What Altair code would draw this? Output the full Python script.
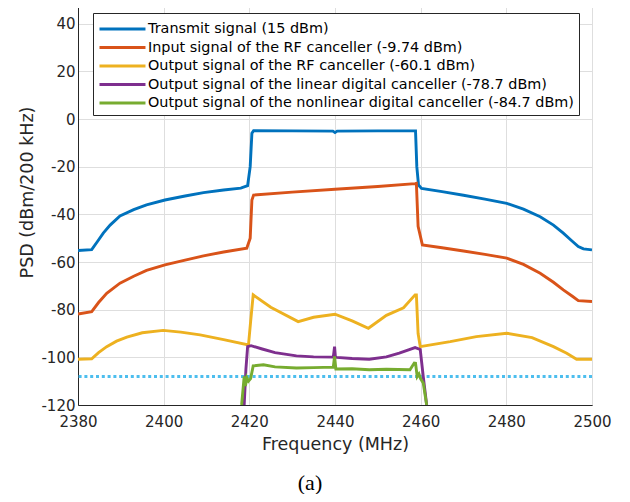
import altair as alt
import pandas as pd

# ---------------- data ----------------
SERIES = [
    "Transmit signal (15 dBm)",
    "Input signal of the RF canceller (-9.74 dBm)",
    "Output signal of the RF canceller (-60.1 dBm)",
    "Output signal of the linear digital canceller (-78.7 dBm)",
    "Output signal of the nonlinear digital canceller (-84.7 dBm)",
]
COLORS = ["#0072BD", "#D95319", "#EDB120", "#7E2F8E", "#77AC30"]

tx_f = [2380, 2383.2, 2384.5, 2385.9, 2387.5, 2389.8, 2393, 2396, 2400.3, 2405, 2409.3,
        2414, 2418, 2419.6, 2420.2, 2420.6, 2421, 2430, 2439.5, 2440, 2440.5, 2450,
        2458.8, 2459.1, 2459.5, 2460.2, 2465, 2470, 2475, 2480.1, 2484, 2487.9, 2491,
        2493.3, 2495.2, 2496.8, 2498, 2500]
tx_v = [-55.2, -54.8, -51.5, -47.9, -44.5, -40.7, -38, -36, -34, -32.3, -30.9,
        -29.8, -29, -28, -20, -6, -4.9, -5, -5.1, -5.7, -5.1, -5,
        -5, -20, -27.7, -29.1, -30.5, -32, -33.6, -35.4, -37.8, -41, -44.5,
        -47.9, -51, -53.5, -54.5, -54.9]

in_f = [2380, 2383.2, 2384.8, 2386.7, 2389.8, 2393, 2396, 2400.3, 2405, 2409.3, 2414,
        2419.4, 2420.2, 2420.6, 2421, 2430, 2440, 2450, 2458.7, 2459.0, 2459.4, 2460.4,
        2465, 2470, 2475, 2480.1, 2484, 2487.9, 2491, 2493.3, 2495.5, 2496.8, 2500]
in_v = [-81.8, -80.8, -77, -73.1, -68.9, -66, -63.5, -61.2, -59.2, -57.4, -55.8,
        -54.2, -50, -34, -31.9, -30.7, -29.5, -28.3, -27.1, -27, -45, -52.8,
        -54, -55.4, -56.8, -58.4, -61, -64.7, -68.5, -71.7, -74.5, -76.2, -76.6]

rf_f = [2380, 2383.2, 2384.8, 2386.7, 2389, 2391.4, 2395, 2399.9, 2404, 2408.5, 2414,
        2419.8, 2420.3, 2420.9, 2425, 2431.4, 2435, 2440, 2444, 2447.8, 2452, 2456,
        2458.7, 2459.0, 2459.4, 2459.9, 2466.9, 2473, 2480.1, 2486, 2491, 2494.1,
        2496.4, 2500]
rf_v = [-100.8, -100.6, -98, -95.5, -93.2, -91.5, -89.7, -88.7, -89.4, -90.6, -92.6,
        -94.8, -85, -73.8, -79, -85, -83.2, -81.9, -84.7, -87.8, -82.4, -79.2,
        -73.8, -73.8, -90, -95.5, -93.4, -91.3, -89.9, -91.7, -95.5, -98.3,
        -100.8, -100.8]

lin_f = [2418.8, 2419.2, 2419.6, 2420.4, 2423, 2426, 2431, 2435, 2439.6, 2439.9,
         2440.1, 2440.4, 2444, 2448, 2452, 2455, 2458.7, 2459.9, 2460.6, 2461.4]
lin_v = [-120, -105, -95.5, -95.1, -96.5, -98, -99.4, -99.8, -99.9, -95.5,
         -99.9, -100, -100.5, -100.8, -99.8, -98.2, -95.9, -96.7, -108, -120]

nl_f = [2418.2, 2418.8, 2419.1, 2419.4, 2419.8, 2420.3, 2420.9, 2423.3, 2426, 2431,
        2435, 2439.6, 2439.9, 2440.2, 2444, 2448, 2452, 2457.5, 2458.5, 2458.8,
        2459.2, 2459.6, 2460.0, 2460.6, 2461.4]
nl_v = [-120, -108, -112, -108.5, -110, -108.9, -103.6, -103.1, -104, -104.5,
        -104.3, -104.1, -99.6, -104.9, -104.8, -105.2, -105, -105.2, -102.4, -102.5,
        -108.1, -107, -109, -110.8, -120]

NOISE_FLOOR = -108

X_TICKS = [2380, 2400, 2420, 2440, 2460, 2480, 2500]
Y_TICKS = [-120, -100, -80, -60, -40, -20, 0, 20, 40]

# ---------------- build table ----------------
rows = []
for name, fs, vs in zip(SERIES, [tx_f, in_f, rf_f, lin_f, nl_f], [tx_v, in_v, rf_v, lin_v, nl_v]):
    for i, (f, v) in enumerate(zip(fs, vs)):
        rows.append({"series": name, "f": f, "psd": v, "i": i})
df = pd.DataFrame(rows)

FONT = "DejaVu Sans"
AX = "#262626"

x_enc = alt.X("f:Q", scale=alt.Scale(domain=[2380, 2500], nice=False),
              axis=alt.Axis(values=X_TICKS, title="Frequency (MHz)",
                            labelExpr="'' + datum.value"))
y_enc = alt.Y("psd:Q", scale=alt.Scale(domain=[-120, 60], nice=False),
              axis=alt.Axis(values=Y_TICKS, title="PSD (dBm/200 kHz)",
                            labelExpr="'' + datum.value",
                            titleX=-51, titleY=216, titleAlign="center",
                            titleBaseline="middle", titleAngle=-90))

lines = alt.Chart(df).mark_line(strokeWidth=2.9, clip=True).encode(
    x=x_enc,
    y=y_enc,
    color=alt.Color("series:N", scale=alt.Scale(domain=SERIES, range=COLORS),
                    legend=alt.Legend(title=None, orient="none", legendX=15, legendY=37,
                                      symbolType="M-1,0L3.84,0", symbolSize=361,
                                      symbolStrokeWidth=3, labelFontSize=14.4,
                                      labelFont=FONT, labelColor="black",
                                      labelOffset=28, padding=5, rowPadding=0.5,
                                      fillColor="white", strokeColor=AX,
                                      labelLimit=600)),
    order="i:Q",
)

floor = alt.Chart(pd.DataFrame({"y": [NOISE_FLOOR]})).mark_rule(
    color="#4DBEEE", strokeWidth=3, strokeDash=[3, 2.8]
).encode(y="y:Q")

chart = alt.layer(floor, lines).properties(
    width=514, height=429,
    padding={"left": 70, "top": -32, "right": 30, "bottom": 89},
    autosize=alt.AutoSizeParams(type="none"),
    title=alt.TitleParams("(a)", orient="bottom", font="Liberation Serif", fontSize=22,
                          fontWeight="normal", color="black", dx=-25, offset=20),
).configure_axis(
    labelFont=FONT, labelFontSize=15, labelColor=AX,
    titleFont=FONT, titleFontSize=17.5, titleColor=AX, titleFontWeight="normal",
    domainColor=AX, domainWidth=1, ticks=False, labelPadding=3,
    labelFlush=False, labelOverlap=False,
    gridColor="#dedede", gridWidth=1,
).configure_axisX(labelPadding=9, titlePadding=6).configure_view(
    stroke=AX, strokeWidth=1
)

chart.save("out.html", embed_options={"renderer": "svg", "actions": False})
